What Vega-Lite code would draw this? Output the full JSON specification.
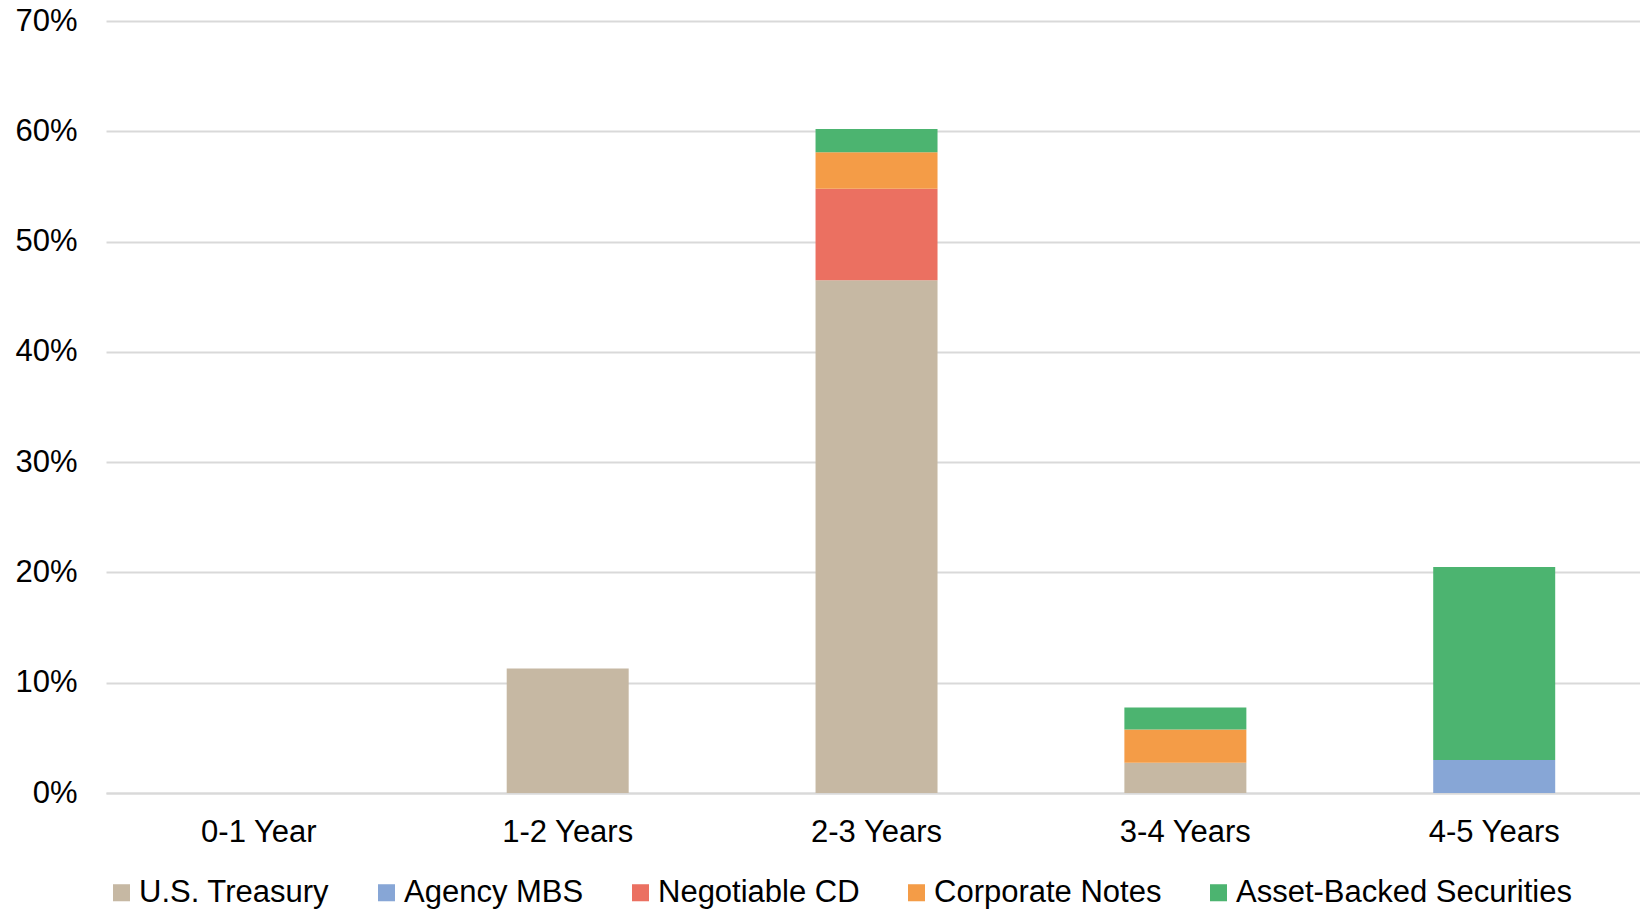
{
  "$schema": "https://vega.github.io/schema/vega-lite/v6.json",
  "width": 1534,
  "height": 772,
  "autosize": {"type": "none"},
  "padding": {"left": 106, "top": 21, "right": 0, "bottom": 117},
  "background": "white",
  "data": {
    "values": [
      {"maturity": "0-1 Year", "type": "U.S. Treasury", "rank": 1, "value": 0},
      {"maturity": "1-2 Years", "type": "U.S. Treasury", "rank": 1, "value": 0.113},
      {"maturity": "2-3 Years", "type": "U.S. Treasury", "rank": 1, "value": 0.465},
      {"maturity": "2-3 Years", "type": "Negotiable CD", "rank": 3, "value": 0.083},
      {"maturity": "2-3 Years", "type": "Corporate Notes", "rank": 4, "value": 0.033},
      {"maturity": "2-3 Years", "type": "Asset-Backed Securities", "rank": 5, "value": 0.021},
      {"maturity": "3-4 Years", "type": "U.S. Treasury", "rank": 1, "value": 0.0275},
      {"maturity": "3-4 Years", "type": "Corporate Notes", "rank": 4, "value": 0.030},
      {"maturity": "3-4 Years", "type": "Asset-Backed Securities", "rank": 5, "value": 0.020},
      {"maturity": "4-5 Years", "type": "Agency MBS", "rank": 2, "value": 0.030},
      {"maturity": "4-5 Years", "type": "Asset-Backed Securities", "rank": 5, "value": 0.175}
    ]
  },
  "mark": {"type": "bar"},
  "encoding": {
    "x": {
      "field": "maturity",
      "type": "nominal",
      "scale": {
        "domain": ["0-1 Year", "1-2 Years", "2-3 Years", "3-4 Years", "4-5 Years"],
        "paddingInner": 0.605,
        "paddingOuter": 0.286,
        "align": 0.52
      },
      "axis": {
        "title": null,
        "labelAngle": 0,
        "ticks": false,
        "domain": true,
        "domainColor": "#d9d9d9",
        "domainWidth": 2,
        "labelPadding": 24,
        "labelFontSize": 31
      }
    },
    "y": {
      "field": "value",
      "type": "quantitative",
      "stack": "zero",
      "scale": {"domain": [0, 0.7], "nice": false},
      "axis": {
        "title": null,
        "format": ".0%",
        "values": [0, 0.1, 0.2, 0.3, 0.4, 0.5, 0.6, 0.7],
        "ticks": false,
        "domain": false,
        "grid": true,
        "gridColor": "#d9d9d9",
        "gridWidth": 2,
        "labelPadding": 29,
        "labelFontSize": 31
      }
    },
    "color": {
      "field": "type",
      "type": "nominal",
      "sort": ["U.S. Treasury", "Agency MBS", "Negotiable CD", "Corporate Notes", "Asset-Backed Securities"],
      "scale": {
        "domain": ["U.S. Treasury", "Agency MBS", "Negotiable CD", "Corporate Notes", "Asset-Backed Securities"],
        "range": ["#C6B8A3", "#87A6D6", "#EB7061", "#F49C47", "#4CB470"]
      },
      "legend": {
        "title": null,
        "orient": "bottom",
        "direction": "horizontal",
        "symbolType": "square",
        "symbolSize": 290,
        "symbolStrokeWidth": 0,
        "labelFontSize": 31,
        "labelLimit": 0,
        "columnPadding": 41,
        "labelOffset": 2,
        "offset": 30
      }
    },
    "order": {"field": "rank", "type": "quantitative", "sort": "ascending"}
  },
  "config": {
    "font": "Liberation Sans",
    "view": {"stroke": null},
    "axis": {"labelColor": "#000000", "labelFont": "Liberation Sans"},
    "legend": {"labelColor": "#000000", "labelFont": "Liberation Sans"}
  }
}
